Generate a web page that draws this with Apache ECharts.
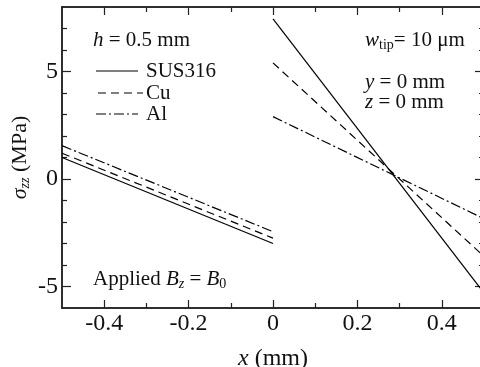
<!DOCTYPE html>
<html>
<head>
<meta charset="utf-8">
<script src="https://cdn.jsdelivr.net/npm/echarts@6/dist/echarts.min.js"></script>
<style>
html, body { margin: 0; padding: 0; background: #fff; }
#main { width: 480px; height: 367px; }
</style>
</head>
<body>
<div id="main"></div>
<script>
// x positions of the two segments (mm)
const xLeft = [-0.5, 0]
const xRight = [0, 0.5]
// sigma_zz (MPa) at the segment ends
const susLeft = [1.0, -3.0]
const susRight = [7.45, -5.3]
const cuLeft = [1.2, -2.75]
const cuRight = [5.4, -3.6]
const alLeft = [1.55, -2.45]
const alRight = [2.9, -1.85]
// ticks
const xMajor = [-0.4, -0.2, 0, 0.2, 0.4]
const xMinor = [-0.3, -0.1, 0.1, 0.3]
const yMajor = [-5, 0, 5]
const yMinor = [-4, -3, -2, -1, 1, 2, 3, 4, 6, 7]

const FONT = '"Liberation Serif", "Times New Roman", serif'
const INK = '#222'
const DASH = [8, 5]
const DASHDOT = [10, 3, 2, 3]

function pts (xs, ys) {
  return xs.map((x, i) => [x, ys[i]])
}

function xAx (pos, ticks, len, withLabels) {
  return {
    type: 'value',
    position: pos,
    min: -0.5,
    max: 0.5,
    axisLine: { show: true, onZero: false, lineStyle: { color: INK, width: 1.5 } },
    axisTick: { show: true, inside: true, length: len, customValues: ticks, lineStyle: { color: INK, width: 1.2 } },
    axisLabel: withLabels ? {
      show: true, customValues: ticks, margin: 4, color: '#111',
      fontFamily: FONT, fontSize: 24
    } : { show: false },
    splitLine: { show: false }
  }
}

function yAx (pos, ticks, len, withLabels) {
  return {
    type: 'value',
    position: pos,
    min: -6,
    max: 8,
    axisLine: { show: true, onZero: false, lineStyle: { color: INK, width: 1.5 } },
    axisTick: { show: true, inside: true, length: len, customValues: ticks, lineStyle: { color: INK, width: 1.2 } },
    axisLabel: withLabels ? {
      show: true, customValues: ticks, margin: 4, color: '#111',
      fontFamily: FONT, fontSize: 24
    } : { show: false },
    splitLine: { show: false }
  }
}

function seg (name, data, type) {
  return {
    name: name,
    type: 'line',
    data: data,
    symbol: 'none',
    silent: true,
    clip: true,
    lineStyle: { color: '#000', width: 1.2, type: type }
  }
}

const chart = echarts.init(document.getElementById('main'))

const xAxes = [xAx('bottom', xMajor, 8, true), xAx('top', xMajor, 8, false), xAx('bottom', xMinor, 5, false), xAx('top', xMinor, 5, false)]
xAxes[0].name = '{i|x} (mm)'
xAxes[0].nameLocation = 'middle'
xAxes[0].nameGap = 39
xAxes[0].nameTextStyle = {
  fontFamily: FONT, fontSize: 24, color: '#111',
  rich: { i: { fontFamily: FONT, fontSize: 24, fontStyle: 'italic', color: '#111' } }
}

const yAxes = [yAx('left', yMajor, 9, true), yAx('right', yMajor, 9, false), yAx('left', yMinor, 5, false), yAx('right', yMinor, 5, false)]
yAxes[0].name = '{i|σ}{s|zz} (MPa)'
yAxes[0].nameLocation = 'middle'
yAxes[0].nameGap = 30
yAxes[0].nameMoveOverlap = false
yAxes[0].nameTextStyle = {
  fontFamily: FONT, fontSize: 22, color: '#111', lineHeight: 24,
  rich: {
    i: { fontFamily: FONT, fontSize: 22, fontStyle: 'italic', color: '#111', lineHeight: 24 },
    s: { fontFamily: FONT, fontSize: 14, fontStyle: 'italic', color: '#111', lineHeight: 10, verticalAlign: 'bottom' }
  }
}

const rich = {
  i: { fontFamily: FONT, fontSize: 21, fontStyle: 'italic', color: '#111', lineHeight: 24 },
  si: { fontFamily: FONT, fontSize: 14, fontStyle: 'italic', color: '#111', lineHeight: 10, verticalAlign: 'bottom' },
  s: { fontFamily: FONT, fontSize: 14, color: '#111', lineHeight: 10, verticalAlign: 'bottom' }
}

function label (x, y, text) {
  return {
    type: 'text', x: x, y: y, silent: true,
    style: {
      text: text, fill: '#111', font: '21px ' + FONT,
      textVerticalAlign: 'middle', rich: rich
    }
  }
}

function sample (x1, x2, y, dash) {
  return {
    type: 'line', silent: true,
    shape: { x1: x1, y1: y, x2: x2, y2: y },
    style: { stroke: '#000', lineWidth: 1.2, lineDash: dash }
  }
}

chart.setOption({
  animation: false,
  backgroundColor: '#fff',
  grid: { left: 62, top: 7, width: 422, height: 301, containLabel: false, outerBoundsMode: 'none' },
  xAxis: xAxes,
  yAxis: yAxes,
  series: [
    seg('SUS316', pts(xLeft, susLeft), 'solid'),
    seg('SUS316', pts(xRight, susRight), 'solid'),
    seg('Cu', pts(xLeft, cuLeft), DASH),
    seg('Cu', pts(xRight, cuRight), DASH),
    seg('Al', pts(xLeft, alLeft), DASHDOT),
    seg('Al', pts(xRight, alRight), DASHDOT)
  ],
  graphic: [
    label(93, 40, '{i|h} = 0.5 mm'),
    sample(96, 138, 71, null),
    label(146, 71, 'SUS316'),
    sample(98, 143, 93, DASH),
    label(146, 93, 'Cu'),
    sample(96, 138, 114, DASHDOT),
    label(146, 114, 'Al'),
    label(365, 40, '{i|w}{s|tip}= 10 μm'),
    label(365, 82, '{i|y} = 0 mm'),
    label(365, 102, '{i|z} = 0 mm'),
    label(93, 279, 'Applied {i|B}{si|z} = {i|B}{s|0}')
  ]
})
window.addEventListener('resize', () => { chart.resize() })
</script>
</body>
</html>
